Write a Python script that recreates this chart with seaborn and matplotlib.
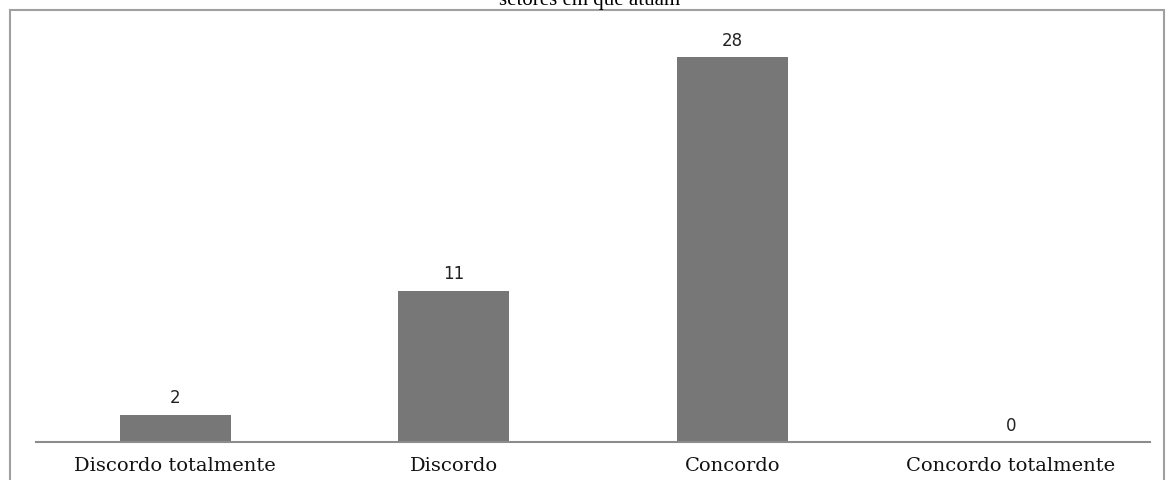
import matplotlib
matplotlib.use("Agg")
import matplotlib.pyplot as plt
import seaborn as sns
import pandas as pd
from matplotlib.patches import Rectangle

categories = ["Discordo totalmente", "Discordo", "Concordo", "Concordo totalmente"]
values = [2, 11, 28, 0]
title_text = "setores em que atuam"

sns.set_theme(style="white")
plt.rcParams['font.family'] = ['DejaVu Serif']

df = pd.DataFrame({"cat": categories, "val": values})

fig = plt.figure(figsize=(11.76, 4.81), dpi=100)
ax = fig.add_axes([36/1176, 38/481, 1114/1176, 432/481])

sns.barplot(data=df, x="cat", y="val", color="#777777", width=0.4,
            saturation=1, ax=ax, edgecolor="none")

ax.set_ylim(0, 432/13.75)
ax.set_xlim(-0.5, 3.5)
for s in ["top", "left", "right"]:
    ax.spines[s].set_visible(False)
ax.spines["bottom"].set_color("#8c8c8c")
ax.spines["bottom"].set_linewidth(1.5)
ax.set_yticks([])
ax.set_xlabel("")
ax.set_ylabel("")
ax.tick_params(axis="x", length=0, pad=10, labelsize=14, colors="#111111")

for c in ax.containers:
    ax.bar_label(c, labels=[str(v) for v in values], padding=6,
                 fontsize=12, family="DejaVu Sans", color="#222222")

# outer frame
fig.add_artist(Rectangle((10/1176, -0.05), 1154/1176, (481-11)/481 + 0.05,
                         transform=fig.transFigure, fill=False,
                         edgecolor="#a0a0a0", linewidth=1.5))

fig.text(590/1176, 1 - 5/481, title_text, ha="center", va="baseline",
         fontsize=15, family="Liberation Serif", color="#000000")

fig.savefig("out.png", dpi=100)
